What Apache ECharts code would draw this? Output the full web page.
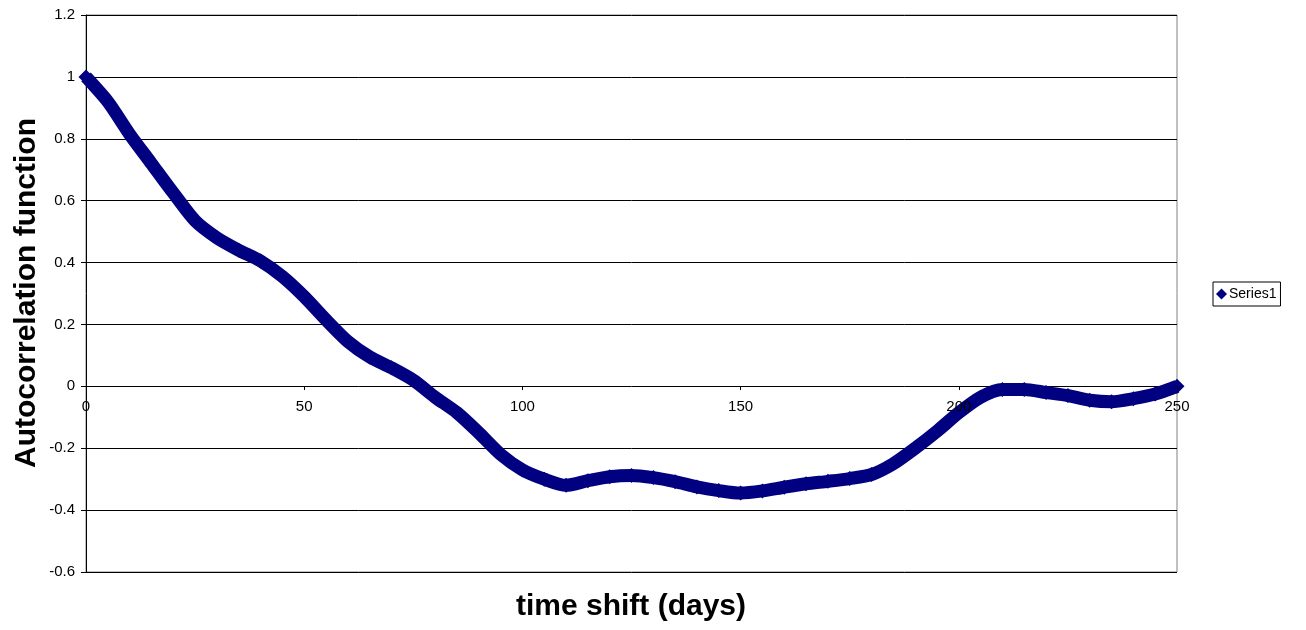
<!DOCTYPE html>
<html>
<head>
<meta charset="utf-8">
<script src="https://cdn.jsdelivr.net/npm/echarts@6/dist/echarts.min.js"></script>
<style>
  html, body { margin: 0; padding: 0; background: #fff; }
  #chart { width: 1306px; height: 630px; }
</style>
</head>
<body>
<div id="chart"></div>
<script>
// time shift in days
const days = [0, 5, 10, 15, 20, 25, 30, 35, 40, 45, 50, 55, 60, 65, 70, 75, 80, 85, 90, 95,
  100, 105, 110, 115, 120, 125, 130, 135, 140, 145, 150, 155, 160, 165, 170, 175, 180, 185, 190, 195,
  200, 205, 210, 215, 220, 225, 230, 235, 240, 245, 250]
// autocorrelation values
const acf = [1.0, 0.92, 0.815, 0.72, 0.625, 0.535, 0.48, 0.44, 0.405, 0.355, 0.29, 0.215, 0.145, 0.095, 0.06, 0.02, -0.035, -0.085, -0.15, -0.22,
  -0.27, -0.30, -0.32, -0.305, -0.292, -0.288, -0.295, -0.308, -0.325, -0.337, -0.345, -0.338, -0.326, -0.315, -0.307, -0.298, -0.285, -0.25, -0.2, -0.145,
  -0.085, -0.035, -0.01, -0.01, -0.02, -0.03, -0.045, -0.05, -0.04, -0.025, 0.0]
const seriesName = 'Series1'

const font = 'Arial, "Liberation Sans", sans-serif'
const myChart = echarts.init(document.getElementById('chart'))

const options = {
  animation: false,
  textStyle: { fontFamily: font },
  grid: {
    left: 86,
    right: 129,
    top: 15,
    bottom: 58,
    show: true,
    borderColor: '#808080',
    borderWidth: 1
  },
  legend: {
    data: [seriesName],
    left: 1213,
    top: 282,
    orient: 'vertical',
    icon: 'diamond',
    itemWidth: 11,
    itemHeight: 11,
    itemGap: 2,
    padding: [5, 4, 5, 3],
    borderColor: '#000',
    borderWidth: 1,
    textStyle: { fontSize: 14, color: '#000', fontFamily: font, padding: [0, 0, 0, -3] }
  },
  xAxis: {
    type: 'value',
    min: 0,
    max: 250,
    interval: 50,
    // 标签画在曲线上面
    z: 5,
    // the axis crosses the y axis at 0
    offset: -186,
    // the line itself comes from the y split line at 0
    axisLine: { show: false, onZero: false },
    axisTick: { show: true, length: 4, inside: false, lineStyle: { color: '#000' } },
    axisLabel: { fontSize: 15, color: '#000', margin: 13, fontFamily: font },
    splitLine: { show: false }
  },
  yAxis: {
    type: 'value',
    min: -0.6,
    max: 1.2,
    interval: 0.2,
    axisLine: { show: true, lineStyle: { color: '#000' } },
    axisTick: { show: true, length: 5, lineStyle: { color: '#000' } },
    axisLabel: {
      fontSize: 15,
      color: '#000',
      margin: 11,
      fontFamily: font,
      formatter: v => String(Math.round(v * 10) / 10)
    },
    splitLine: { show: true, lineStyle: { color: '#000', width: 1 } }
  },
  graphic: [
    {
      type: 'text',
      x: 631,
      y: 607,
      style: {
        text: 'time shift (days)',
        font: 'bold 30px ' + font,
        fill: '#000',
        align: 'center',
        verticalAlign: 'middle'
      }
    },
    {
      type: 'text',
      x: 27,
      y: 293,
      rotation: Math.PI / 2,
      style: {
        text: 'Autocorrelation function',
        font: 'bold 30px ' + font,
        fill: '#000',
        align: 'center',
        verticalAlign: 'middle'
      }
    }
  ],
  series: [
    {
      name: seriesName,
      type: 'line',
      z: 2,
      data: days.map((d, i) => [d, acf[i]]),
      symbol: 'diamond',
      symbolSize: 15,
      showAllSymbol: true,
      smooth: 0.25,
      itemStyle: { color: '#000080' },
      lineStyle: { color: '#000080', width: 13 }
    }
  ]
}

myChart.setOption(options, true)
window.addEventListener('resize', () => {
  myChart.resize()
})
</script>
</body>
</html>
